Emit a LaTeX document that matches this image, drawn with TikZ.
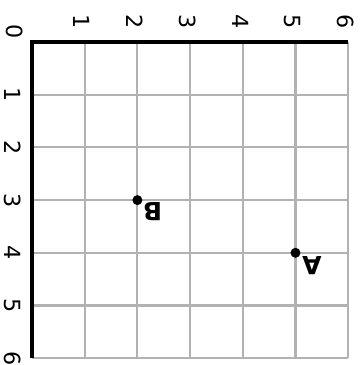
\documentclass[tikz,border=0pt]{standalone}
\usepackage{fontspec}
\setmainfont{DejaVu Sans}

\begin{document}
\begin{tikzpicture}[
    every node/.style={font=\fontsize{12}{13}\selectfont, rotate=-90, inner sep=0pt},
    dot/.style={circle, fill=black, minimum size=5.4pt, inner sep=0pt},
    ptlabel/.style={font=\fontsize{13.5}{14}\selectfont\bfseries, rotate=-90, inner sep=0pt}]
    \useasboundingbox (-0.607,0.797) rectangle (6.243,-6.129);

    \draw[gray!60, line width=1.1pt] (0,0) grid (6,-6);
    \draw[line width=1.8pt] (6,0) -- (0,0) -- (0,-6);

    \node (zero) at (-0.33,0.19) {0};

    \node (c1) at (0.95,0.38) {1};
    \node (c2) at (1.95,0.38) {2};
    \node (c3) at (2.95,0.38) {3};
    \node (c4) at (3.95,0.38) {4};
    \node (c5) at (4.95,0.38) {5};
    \node (c6) at (5.95,0.38) {6};

    \node (r1) at (-0.37,-1) {1};
    \node (r2) at (-0.37,-2) {2};
    \node (r3) at (-0.37,-3) {3};
    \node (r4) at (-0.37,-4) {4};
    \node (r5) at (-0.37,-5) {5};
    \node (r6) at (-0.37,-6) {6};

    \node[dot] (B) at (2,-3) {};
    \node[dot] (A) at (5,-4) {};
    \node[ptlabel] (labB) at (2.29,-3.22) {B};
    \node[ptlabel] (labA) at (5.31,-4.25) {A};
\end{tikzpicture}
\end{document}
